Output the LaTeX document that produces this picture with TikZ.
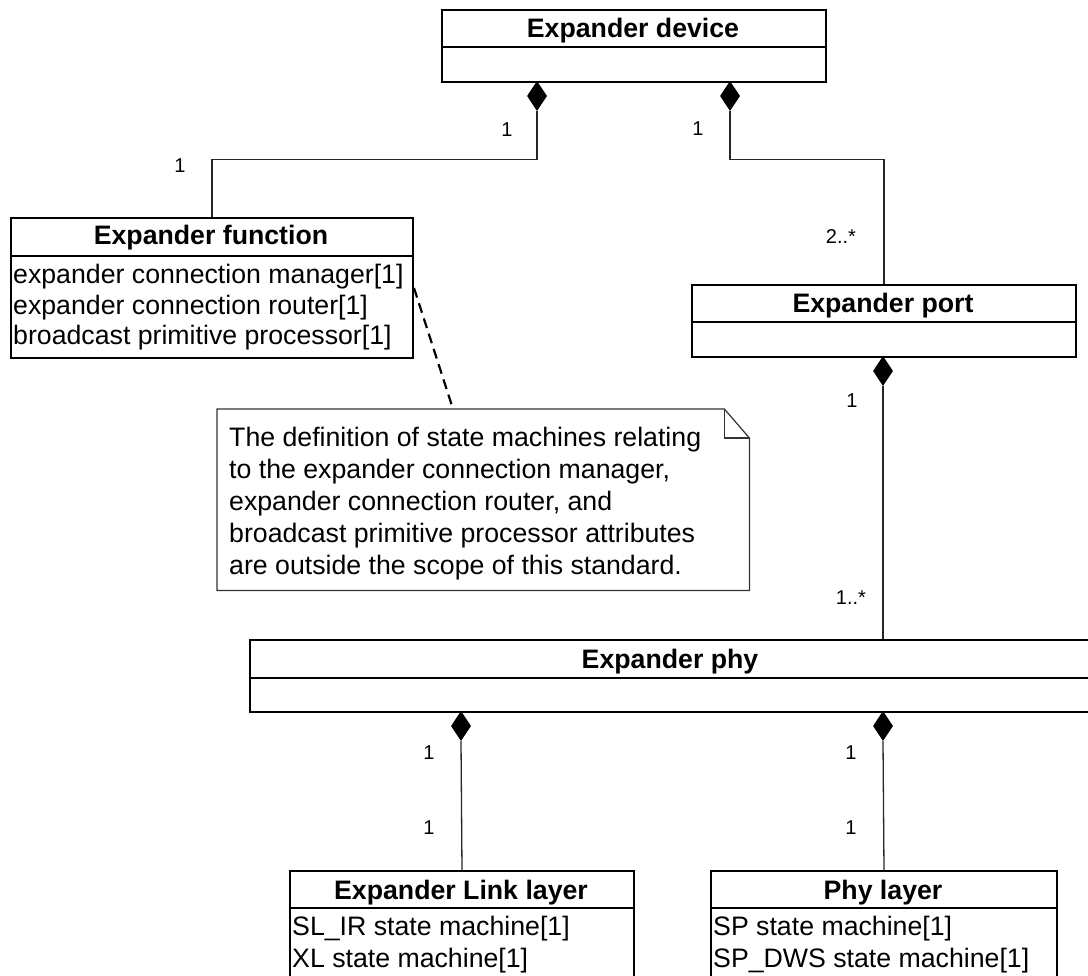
\documentclass[tikz,border=0pt]{standalone}
\usepackage{fontspec}
\setmainfont{Liberation Sans}
\usetikzlibrary{shapes.geometric,calc}
\begin{document}
\begin{tikzpicture}[x=1pt,y=-1pt,
  box/.style={draw=black, line width=2pt, inner sep=0pt, anchor=north west},
  divline/.style={line width=2pt, draw=black},
  conn/.style={line width=1.3pt, draw=black!85},
  dia/.style={diamond, fill=black, draw=none, inner sep=0pt, minimum width=20pt, minimum height=30pt, aspect=0.67},
  ttl/.style={font=\bfseries\fontsize{26.7pt}{30pt}\selectfont, anchor=base, inner sep=0pt},
  attr/.style={font=\fontsize{26.7pt}{30pt}\selectfont, anchor=base west, inner sep=0pt},
  mult/.style={font=\fontsize{20pt}{24pt}\selectfont, inner sep=0pt},
  noteline/.style={line width=1.2pt, draw=black!80},
  dashline/.style={line width=2.2pt, draw=black, dash pattern=on 10pt off 6pt}
]
\useasboundingbox (0,0) rectangle (1088,976);
\clip (0,0) rectangle (1088,976);

% Expander device
\node[box, minimum width=384pt, minimum height=72pt] (dev) at (441,9) {};
\draw[divline] (dev.west |- 0,47) -- (dev.east |- 0,47);
\node[ttl] (devT) at (633,38) {Expander device};

% Expander function
\node[box, minimum width=402pt, minimum height=140pt] (fn) at (10,217) {};
\draw[divline] (fn.west |- 0,256) -- (fn.east |- 0,256);
\node[ttl] (fnT) at (211,245) {Expander function};
\node[attr] (fnA) at (13,284) {expander connection manager[1]};
\node[attr] (fnB) at (13,314.5) {expander connection router[1]};
\node[attr] (fnC) at (13,345) {broadcast primitive processor[1]};

% Expander port
\node[box, minimum width=384pt, minimum height=72pt] (port) at (691,284) {};
\draw[divline] (port.west |- 0,322) -- (port.east |- 0,322);
\node[ttl] (portT) at (883,313) {Expander port};

% Expander phy
\node[box, minimum width=842pt, minimum height=72pt] (phy) at (249,639) {};
\draw[divline] (phy.west |- 0,678) -- (phy.east |- 0,678);
\node[ttl] (phyT) at (670,668) {Expander phy};

% Expander Link layer
\node[box, minimum width=344pt, minimum height=140pt] (link) at (289,870) {};
\draw[divline] (link.west |- 0,908) -- (link.east |- 0,908);
\node[ttl] (linkT) at (461,899) {Expander Link layer};
\node[attr] (linkA) at (292,935) {SL\_IR state machine[1]};
\node[attr] (linkB) at (292,967) {XL state machine[1]};

% Phy layer
\node[box, minimum width=346pt, minimum height=140pt] (phyl) at (710,870) {};
\draw[divline] (phyl.west |- 0,908) -- (phyl.east |- 0,908);
\node[ttl] (phylT) at (883,899) {Phy layer};
\node[attr] (phylA) at (713,935) {SP state machine[1]};
\node[attr] (phylB) at (713,967) {SP\_DWS state machine[1]};

% Note
\node[inner sep=0pt, minimum width=532pt, minimum height=181pt, anchor=north west] (note) at (217,409) {};
\draw[noteline, fill=white] (note.north west) -- ($(note.north east)+(-25,0)$) -- ($(note.north east)+(0,29)$) -- (note.south east) -- (note.south west) -- cycle;
\draw[noteline] ($(note.north east)+(-25,0)$) -- ($(note.north east)+(-25,29)$) -- ($(note.north east)+(0,29)$);
\node[align=left, anchor=north west, inner sep=0pt, font=\fontsize{26.7pt}{32pt}\selectfont] (notetext) at (229,427)
  {The definition of state machines relating\\to the expander connection manager,\\expander connection router, and\\broadcast primitive processor attributes\\are outside the scope of this standard.};

% Diamonds
\node[dia] (dA) at (537,96) {};
\node[dia] (dB) at (730,96) {};
\node[dia] (dC) at (883,371) {};
\node[dia] (dD) at (461,726) {};
\node[dia] (dE) at (883,726) {};

% Connectors
\draw[conn] (dA.south) -- ++(0,48) -| (fn.north);
\draw[conn] (dB.south) -- ++(0,48) -| (port.north);
\draw[conn] (dC.south) -- (dC.south |- phy.north);
\draw[conn] (dD.south) -- (link.north);
\draw[conn] (dE.south) -- (phyl.north);
\draw[dashline] (fn.east) -- ($(note.north west)+(236,0)$);

% Multiplicities
\node[mult] (m1) at (507,130) {1};
\node[mult] (m2) at (180,166) {1};
\node[mult] (m3) at (698,129) {1};
\node[mult] (m4) at (841,237) {2..*};
\node[mult] (m5) at (852,401) {1};
\node[mult] (m6) at (851,598) {1..*};
\node[mult] (m7) at (429,753) {1};
\node[mult] (m8) at (429,828) {1};
\node[mult] (m9) at (851,753) {1};
\node[mult] (m10) at (851,828) {1};
\end{tikzpicture}
\end{document}
